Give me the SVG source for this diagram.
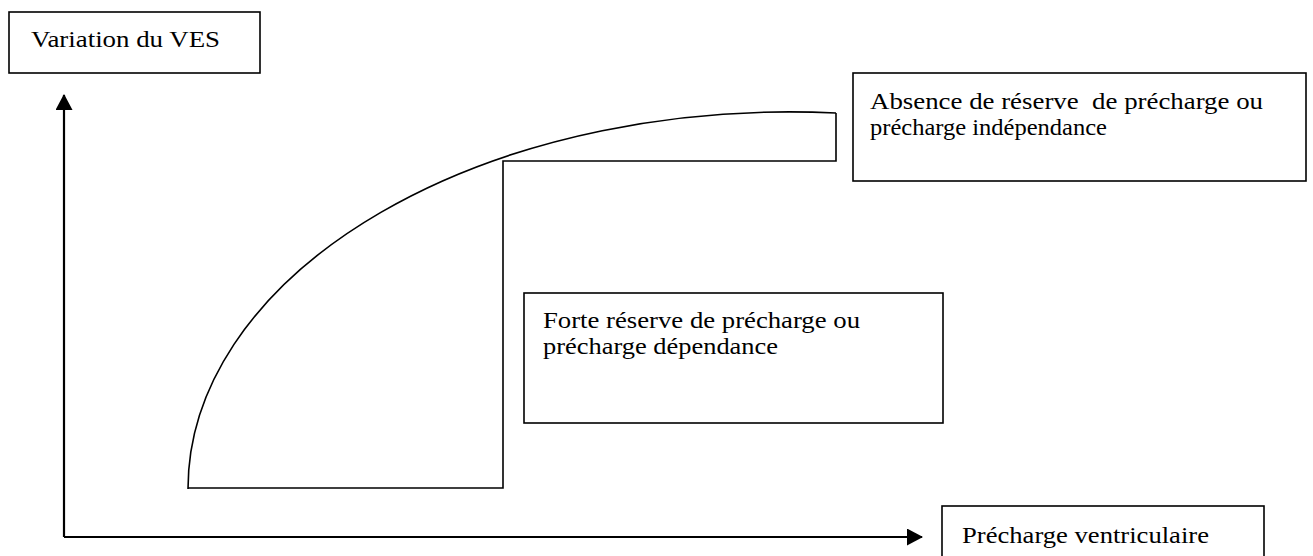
<svg xmlns="http://www.w3.org/2000/svg" width="1313" height="556" viewBox="0 0 1313 556">
<style>
.box{fill:#fff;stroke:#000;stroke-width:1.6}
.lbl{font-family:"Liberation Serif","Times New Roman",serif;font-size:24px;fill:#000}
.ax{stroke:#000;stroke-width:2.2;fill:none}
.ln{stroke:#000;stroke-width:1.6;fill:none}
</style>
<defs>
<marker id="ah" markerWidth="16" markerHeight="17" refX="15" refY="8.5" orient="auto" markerUnits="userSpaceOnUse" viewBox="0 0 16 17">
<path d="M0,0 L16,8.5 L0,17 Z" fill="#000"/>
</marker>
</defs>
<rect width="1313" height="556" fill="#fff"/>
<g id="connectors">
<path class="ax" d="M64,537 L64,95" marker-end="url(#ah)"/>
<path class="ax" d="M64,537 L922,537" marker-end="url(#ah)"/>
<path class="ln" d="M188,489 A602,377 0 0 1 836,113"/>
<path class="ln" d="M188,488 L503,488 L503,161 L836,161 L836,113"/>
</g>
<g id="node-ves">
<rect class="box" x="9" y="12" width="251" height="61"/>
<text class="lbl" x="31" y="47" textLength="189" lengthAdjust="spacingAndGlyphs">Variation du VES</text>
</g>
<g id="node-absence">
<rect class="box" x="853" y="73" width="453" height="108"/>
<text class="lbl" x="870" y="109" textLength="393" lengthAdjust="spacingAndGlyphs" xml:space="preserve">Absence de réserve  de précharge ou</text>
<text class="lbl" x="870" y="135" textLength="237" lengthAdjust="spacingAndGlyphs">précharge indépendance</text>
</g>
<g id="node-forte">
<rect class="box" x="524" y="293" width="419" height="130"/>
<text class="lbl" x="543" y="328" textLength="317" lengthAdjust="spacingAndGlyphs">Forte réserve de précharge ou</text>
<text class="lbl" x="543" y="354" textLength="235" lengthAdjust="spacingAndGlyphs">précharge dépendance</text>
</g>
<g id="node-precharge">
<rect class="box" x="942" y="506" width="322" height="60"/>
<text class="lbl" x="962" y="543" textLength="247" lengthAdjust="spacingAndGlyphs">Précharge ventriculaire</text>
</g>
</svg>
